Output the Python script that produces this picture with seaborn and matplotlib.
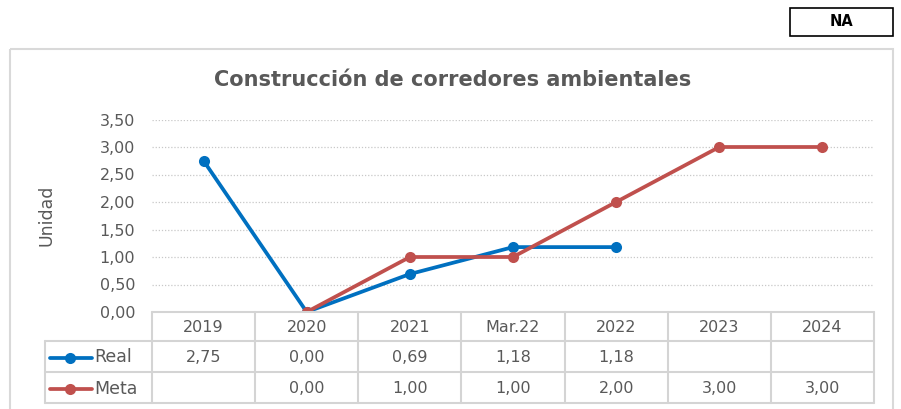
import numpy as np
import pandas as pd
import seaborn as sns
import matplotlib.pyplot as plt
from matplotlib.lines import Line2D
from matplotlib.patches import Rectangle

# Data
categories = ['2019', '2020', '2021', 'Mar.22', '2022', '2023', '2024']
real = [2.75, 0.00, 0.69, 1.18, 1.18, np.nan, np.nan]
meta = [np.nan, 0.00, 1.00, 1.00, 2.00, 3.00, 3.00]
series_names = ['Real', 'Meta']
yticks = [0, 0.5, 1, 1.5, 2, 2.5, 3, 3.5]

blue = '#0070C0'
red = '#C0504D'
txt = '#595959'
grid_c = '#D9D9D9'

sns.set_theme(style='white')
plt.rcParams['font.family'] = ['DejaVu Sans']

W, H = 901, 409
fig = plt.figure(figsize=(W / 100, H / 100), dpi=100)

# pixel layout
px_left, px_right = 152, 874
px_top, px_bottom = 119.5, 312
ax = fig.add_axes([px_left / W, 1 - px_bottom / H,
                   (px_right - px_left) / W, (px_bottom - px_top) / H])

xpos = np.arange(len(categories)) + 0.5
df = pd.DataFrame({
    'x': np.concatenate([xpos, xpos]),
    'valor': real + meta,
    'serie': ['Real'] * len(categories) + ['Meta'] * len(categories),
}).dropna()

sns.lineplot(data=df, x='x', y='valor', hue='serie', hue_order=series_names,
             palette=[blue, red], marker='o', markersize=8, markeredgewidth=0,
             linewidth=2.7, legend=False, ax=ax, zorder=3)

ax.set_xlim(0, len(categories))
ax.set_ylim(0, 3.5)
ax.set_yticks(yticks)
ax.set_yticklabels([f'{v:.2f}'.replace('.', ',') for v in yticks],
                   fontsize=11.5, color=txt)
ax.tick_params(axis='y', length=0, pad=12)
ax.set_xticks([])
ax.set_xlabel('')
ax.set_ylabel('Unidad', fontsize=12.5, color=txt)
ax.yaxis.set_label_coords(-0.133, 0.5)
for y in yticks[1:]:
    ax.axhline(y, color='#C8C8C8', lw=0.9, ls=(0, (1, 1.5)), zorder=1)
for s in ax.spines.values():
    s.set_visible(False)
ax.set_facecolor('none')

# overlay in pixel coordinates for frame, title, table
ov = fig.add_axes([0, 0, 1, 1], zorder=-1)
ov.set_xlim(0, W)
ov.set_ylim(H, 0)
ov.axis('off')

# chart frame
ov.add_patch(Rectangle((10, 49), 883, 380, fill=False, ec=grid_c, lw=1.5))
# NA box
ov.add_patch(Rectangle((790, 8), 103, 28, fill=False, ec='black', lw=1.2))
ov.text(841.5, 22, 'NA', ha='center', va='center', fontsize=10.5,
        fontweight='bold', color='black', family='Liberation Sans Narrow')

fig.text(453 / W, 1 - 80 / H, 'Construcción de corredores ambientales',
         ha='center', va='center', fontsize=15, fontweight='bold', color=txt)

# data table below the plot
cw = (px_right - px_left) / len(categories)
row_y = [312, 341, 372, 403]
leg_left = 45
tab = fig.add_axes([0, 0, 1, 1], zorder=2)
tab.set_xlim(0, W)
tab.set_ylim(H, 0)
tab.axis('off')
tc = '#D4D4D4'
tab.plot([px_left, px_right], [row_y[0]] * 2, color=tc, lw=1.5)
for yy in row_y[1:]:
    tab.plot([leg_left, px_right], [yy, yy], color=tc, lw=1.5)
for i in range(len(categories) + 1):
    xx = px_left + i * cw
    tab.plot([xx, xx], [row_y[0], row_y[3]], color=tc, lw=1.5)
tab.plot([leg_left, leg_left], [row_y[1], row_y[3]], color=tc, lw=1.5)

for i, c in enumerate(categories):
    cx = px_left + (i + 0.5) * cw
    tab.text(cx, (row_y[0] + row_y[1]) / 2 + 1, c, ha='center', va='center',
             fontsize=11.5, color=txt)
for r, (name, vals, col) in enumerate(zip(series_names, [real, meta], [blue, red])):
    cy = (row_y[r + 1] + row_y[r + 2]) / 2 + 1
    tab.add_line(Line2D([50, 92], [cy, cy], color=col, lw=2.7))
    tab.plot([70], [cy], marker='o', color=col, markersize=8, markeredgewidth=0)
    tab.text(94, cy, name, ha='left', va='center', fontsize=12.5, color=txt)
    for i, v in enumerate(vals):
        if not np.isnan(v):
            tab.text(px_left + (i + 0.5) * cw, cy, f'{v:.2f}'.replace('.', ','),
                     ha='center', va='center', fontsize=11.5, color=txt)

fig.savefig('out.png', dpi=100)
